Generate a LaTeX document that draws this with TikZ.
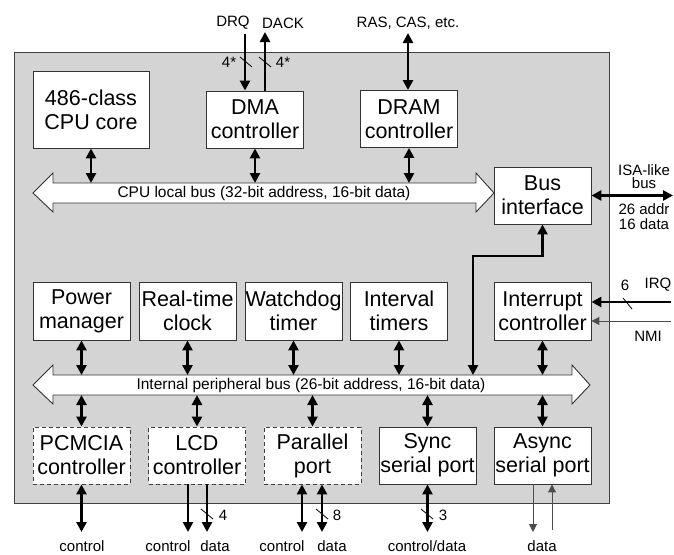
\documentclass[tikz,border=0pt]{standalone}
\usepackage{fontspec}
\setmainfont{Liberation Sans}
\usetikzlibrary{arrows.meta}
\begin{document}
\begin{tikzpicture}[x=1pt,y=-1pt,
  box/.style={draw=black!80, fill=white, line width=0.9pt, minimum width=97pt, minimum height=57pt,
    inner sep=0pt, align=center, font=\fontsize{21.5}{24}\selectfont},
  dbox/.style={box, draw=black!75, dash pattern=on 4pt off 3pt},
  lbl/.style={inner sep=0pt, font=\fontsize{15}{17}\selectfont},
  buslbl/.style={inner sep=0pt, font=\fontsize{15.5}{17}\selectfont},
  bus/.style={draw=black!80, fill=white, line width=0.9pt, line join=miter},
  tk/.style={line width=2.6pt},
  thn/.style={line width=1pt, draw=black!70},
  tip/.tip={Triangle[length=10pt,width=10pt]},
  stip/.tip={Triangle[length=8pt,width=8pt]},
  sarr/.style={tk, -tip},
  darr/.style={tk, tip-tip},
  tarr/.style={thn, -stip},
  slash/.style={line width=0.8pt}
]
\useasboundingbox (0,0) rectangle (674,554);
% chip outline
\draw[draw=black!75, fill=black!17, line width=0.9pt] (14,52) rectangle (609,503);

% coordinates for bus edges
\coordinate (cbt) at (0,183);
\coordinate (ibt) at (0,375);
\coordinate (ibb) at (0,395);
\coordinate (bot) at (0,532);

% buses
\draw[bus] (33,193) -- (53,173) -- (53,183) -- (476,183) -- (476,173) -- (494,193)
  -- (476,212) -- (476,203) -- (53,203) -- (53,212) -- cycle;
\node[buslbl] (cpubus) at (264,193) {CPU local bus (32-bit address, 16-bit data)};
\draw[bus] (33,385) -- (53,365) -- (53,375) -- (572,375) -- (572,365) -- (590,385)
  -- (572,404) -- (572,395) -- (53,395) -- (53,404) -- cycle;
\node[buslbl] (ipbus) at (311,385) {Internal peripheral bus (26-bit address, 16-bit data)};

% boxes
\node[box, minimum width=116pt, minimum height=77pt] (cpu) at (91,109.5) {486-class\\CPU core};
\node[box] (dma) at (255,119.5) {DMA\\controller};
\node[box] (dram) at (409,119) {DRAM\\controller};
\node[box] (busif) at (542.5,195.5) {Bus\\interface};

\node[box, minimum height=58pt] (power) at (81.5,311) {Power\\manager};
\node[box, minimum height=58pt] (rtc) at (187.5,311) {Real-time\\clock};
\node[box, minimum height=58pt] (wdog) at (293.5,311) {Watchdog\\timer};
\node[box, minimum height=58pt] (itim) at (399,311) {Interval\\timers};
\node[box, minimum height=58pt] (intc) at (542.5,311) {Interrupt\\controller};

\node[dbox] (pcmcia) at (81.5,455.5) {PCMCIA\\controller};
\node[dbox] (lcd) at (197,455.5) {LCD\\controller};
\node[dbox] (par) at (312.5,455.5) {Parallel\\port};
\node[box] (sync) at (427.5,455.5) {Sync\\serial port};
\node[box] (async) at (542.5,455.5) {Async\\serial port};

% top external signals
\node[lbl] (drq) at (233,23) {DRQ};
\node[lbl] (dack) at (283,23) {DACK};
\coordinate (drqtop) at (245,34);
\coordinate (dacktop) at (265,32);
\draw[sarr] (drqtop) -- (drqtop |- dma.north);
\draw[sarr] (dacktop |- dma.north) -- (dacktop);
\draw[slash] (240,57) -- (252,67);
\draw[slash] (259,57) -- (271,67);
\node[lbl] (n4a) at (229,62) {4*};
\node[lbl] (n4b) at (283,62) {4*};

\node[lbl] (ras) at (408,23) {RAS, CAS, etc.};
\coordinate (rastop) at (408,33);
\draw[darr] (rastop) -- (rastop |- dram.north);

% CPU local bus connections
\draw[darr] (cpu.south) -- (cpu.south |- cbt);
\draw[darr] (dma.south) -- (dma.south |- cbt);
\draw[darr] (dram.south) -- (dram.south |- cbt);

% ISA-like bus
\coordinate (isaend) at (673,195.5);
\draw[darr] (busif.east) -- (isaend);
\node[lbl] (isa1) at (644,170) {ISA-like};
\node[lbl] (isa2) at (644,183.5) {bus};
\node[lbl] (isa3) at (644,209) {26 addr};
\node[lbl] (isa4) at (644,224) {16 data};

% bus interface to internal bus
\coordinate (bend) at (473,256);
\draw[darr, line join=miter] (busif.south) |- (bend) -- (bend |- ibt);

% IRQ / NMI
\coordinate (irqsrc) at (671,302);
\coordinate (nmisrc) at (671,321);
\draw[sarr] (irqsrc) -- (intc.east |- irqsrc);
\draw[tarr] (nmisrc) -- (intc.east |- nmisrc);
\draw[slash] (623,298) -- (632,309);
\node[lbl] (n6) at (625,285) {6};
\node[lbl] (irq) at (658,285) {IRQ};
\node[lbl] (nmi) at (648,336) {NMI};

% middle row to internal bus
\draw[darr] (power.south) -- (power.south |- ibt);
\draw[darr] (rtc.south) -- (rtc.south |- ibt);
\draw[darr] (wdog.south) -- (wdog.south |- ibt);
\draw[darr] (itim.south) -- (itim.south |- ibt);
\draw[darr] (intc.south) -- (intc.south |- ibt);

% internal bus to bottom row
\draw[darr] (pcmcia.north) -- (pcmcia.north |- ibb);
\draw[darr] (lcd.north) -- (lcd.north |- ibb);
\draw[darr] (par.north) -- (par.north |- ibb);
\draw[darr] (sync.north) -- (sync.north |- ibb);
\draw[darr] (async.north) -- (async.north |- ibb);

% bottom external signals
\draw[darr] (pcmcia.south) -- (pcmcia.south |- bot);
\draw[sarr] ([xshift=-9pt]lcd.south) -- ([xshift=-9pt]lcd.south |- bot);
\draw[sarr] ([xshift=10pt]lcd.south) -- ([xshift=10pt]lcd.south |- bot);
\draw[slash] (201,509) -- (213,519);
\node[lbl] (n4c) at (223,515) {4};
\draw[darr] ([xshift=-10.5pt]par.south) -- ([xshift=-10.5pt]par.south |- bot);
\draw[darr] ([xshift=9.5pt]par.south) -- ([xshift=9.5pt]par.south |- bot);
\draw[slash] (316,509) -- (328,519);
\node[lbl] (n8) at (337,515) {8};
\draw[darr] (sync.south) -- (sync.south |- bot);
\draw[slash] (421,509) -- (433,519);
\node[lbl] (n3) at (443,515) {3};
\draw[tarr] ([xshift=-9.5pt]async.south) -- ([xshift=-9.5pt]async.south |- bot);
\coordinate (asin) at (552,530);
\draw[tarr] (asin) -- (asin |- async.south);

\node[lbl] (b1) at (82,546) {control};
\node[lbl] (b2) at (168,546) {control};
\node[lbl] (b3) at (215,546) {data};
\node[lbl] (b4) at (282,546) {control};
\node[lbl] (b5) at (332,546) {data};
\node[lbl] (b6) at (427,546) {control/data};
\node[lbl] (b7) at (542,546) {data};
\end{tikzpicture}
\end{document}
